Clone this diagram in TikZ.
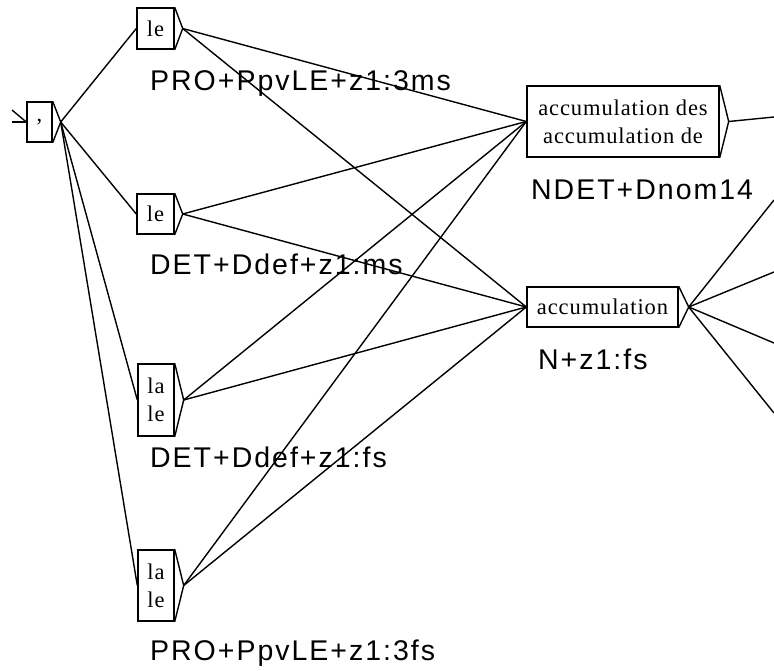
\documentclass[tikz,border=0pt]{standalone}
\usepackage{fontspec}
\setmainfont{Liberation Serif}
\newfontfamily\labfont[LetterSpace=7]{Liberation Sans}
\newfontfamily\boxfont[LetterSpace=4]{Liberation Serif}
\usetikzlibrary{calc}
\tikzset{
  gbox/.style={draw, line width=1.4pt, rectangle, inner sep=0pt, align=center,
    font=\boxfont\fontsize{22.5}{28}\selectfont},
  glabel/.style={anchor=base west, inner sep=0pt, font=\labfont\fontsize{28.5}{30}\selectfont},
  edge/.style={line width=1.4pt},
}
\begin{document}
\begin{tikzpicture}[x=1pt,y=-1pt]
\useasboundingbox (0,0) rectangle (774,671);
% boxes
\node[gbox, minimum width=25pt, minimum height=40pt] (c) at (39.5,122) {,};
\node[gbox, minimum width=37pt, minimum height=41pt] (b1) at (155.5,28.5) {le};
\node[gbox, minimum width=37pt, minimum height=40pt] (b2) at (155.5,214) {le};
\node[gbox, minimum width=36pt, minimum height=72pt] (b3) at (156,400) {la\\le};
\node[gbox, minimum width=36pt, minimum height=71pt] (b4) at (156,585.5) {la\\le};
\node[gbox, minimum width=192pt, minimum height=71pt] (a1) at (623,121.5) {accumulation des\\accumulation de};
\node[gbox, minimum width=151pt, minimum height=40pt] (a2) at (602.5,307) {accumulation};
% tips
\coordinate (ct) at ($(c.east)+(8,0)$);
\coordinate (b1t) at ($(b1.east)+(8,0)$);
\coordinate (b2t) at ($(b2.east)+(8,0)$);
\coordinate (b3t) at ($(b3.east)+(9,0)$);
\coordinate (b4t) at ($(b4.east)+(9,0)$);
\coordinate (a1t) at ($(a1.east)+(9,0)$);
\coordinate (a2t) at ($(a2.east)+(10,0)$);
\foreach \n in {c,b1,b2,b3,b4,a1,a2}{
  \draw[edge] (\n.north east) -- (\n t) -- (\n.south east);
}
% free ends
\coordinate (l1) at (12,110);
\coordinate (l2) at (12,122);
\coordinate (r0) at (774,117);
\coordinate (r1) at (774,200);
\coordinate (r2) at (774,272);
\coordinate (r3) at (774,343);
\coordinate (r4) at (774,413);
% connectors
\draw[edge] (l1) -- (c.west);
\draw[edge] (l2) -- (c.west);
\foreach \n in {b1,b2,b3,b4}{
  \draw[edge] (ct) -- (\n.west);
  \draw[edge] (\n t) -- (a1.west);
  \draw[edge] (\n t) -- (a2.west);
}
\draw[edge] (a1t) -- (r0);
\foreach \r in {r1,r2,r3,r4}{
  \draw[edge] (a2t) -- (\r);
}
% labels
\node[glabel] (lp1) at (150,91) {PRO+PpvLE+z1:3ms};
\node[glabel] (ld1) at (150,275) {DET+Ddef+z1:ms};
\node[glabel] (ld2) at (150,467) {DET+Ddef+z1:fs};
\node[glabel] (lp2) at (150,660) {PRO+PpvLE+z1:3fs};
\node[glabel] (lnd) at (531,200) {NDET+Dnom14};
\node[glabel] (ln) at (538,369) {N+z1:fs};
\end{tikzpicture}
\end{document}
